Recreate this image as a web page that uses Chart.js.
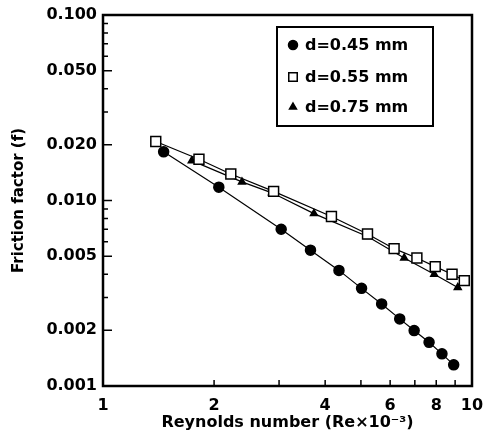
<!DOCTYPE html>
<html>
<head>
<meta charset="utf-8">
<script src="https://cdn.jsdelivr.net/npm/chart.js@4.4.0/dist/chart.umd.min.js"></script>
<style>
  html, body { margin: 0; padding: 0; background: #fff; }
  #chart { display: block; }
</style>
</head>
<body>
<canvas id="chart" width="484" height="441"></canvas>
<script>
// Reynolds number (x 10^-3) and friction factor
const reD045 = [1.46, 2.06, 3.04, 3.65, 4.36, 5.02, 5.69, 6.37, 6.97, 7.65, 8.29, 8.92];
const fD045 = [0.0183, 0.0118, 0.0070, 0.0054, 0.0042, 0.00336, 0.00277, 0.0023, 0.00199, 0.00172, 0.00149, 0.0013];

const reD055 = [1.39, 1.82, 2.22, 2.90, 4.16, 5.21, 6.15, 7.09, 7.95, 8.83, 9.53];
const fD055 = [0.0208, 0.0167, 0.0139, 0.0112, 0.0082, 0.0066, 0.0055, 0.0049, 0.0044, 0.0040, 0.0037];

const reD075 = [1.74, 2.38, 2.87, 3.73, 5.21, 6.55, 7.90, 9.15];
const fD075 = [0.0164, 0.0126, 0.0110, 0.0085, 0.0064, 0.0049, 0.0040, 0.0034];

const seriesLabels = ['d=0.45 mm', 'd=0.55 mm', 'd=0.75 mm'];

// tick positions and the ones that carry a label
const xTicks = [1, 2, 3, 4, 5, 6, 7, 8, 9, 10];
const xTickLabels = ['1', '2', '4', '6', '8', '10'];
const yTicks = [0.001, 0.002, 0.003, 0.004, 0.005, 0.006, 0.007, 0.008, 0.009,
                0.01, 0.02, 0.03, 0.04, 0.05, 0.06, 0.07, 0.08, 0.09, 0.1];
const yTickLabels = ['0.001', '0.002', '0.005', '0.010', '0.020', '0.050', '0.100'];

const toPoints = (xs, ys) => xs.map((x, i) => ({ x: x, y: ys[i] }));
const FONT = '"DejaVu Sans", "Liberation Sans", sans-serif';

function yLabel(v) {
    const s = v.toFixed(3);
    return yTickLabels.includes(s) ? s : '';
}
function xLabel(v) {
    const s = String(v);
    return xTickLabels.includes(s) ? s : '';
}

// frame plus inward ticks, drawn from the scales
const framePlugin = {
    id: 'frame',
    afterDatasetsDraw(chart) {
        const { ctx, chartArea: a, scales } = chart;
        ctx.save();
        ctx.strokeStyle = '#000';
        ctx.lineWidth = 2.5;
        ctx.strokeRect(a.left, a.top, a.right - a.left, a.bottom - a.top);
        ctx.lineWidth = 1.5;
        ctx.beginPath();
        scales.y.ticks.forEach(t => {
            const py = scales.y.getPixelForValue(t.value);
            const len = yLabel(t.value) ? 9 : 5;
            ctx.moveTo(a.left, py);
            ctx.lineTo(a.left + len, py);
        });
        scales.x.ticks.forEach(t => {
            if (t.value === 1 || t.value === 10) return;
            const px = scales.x.getPixelForValue(t.value);
            ctx.moveTo(px, a.bottom);
            ctx.lineTo(px, a.bottom - 6);
        });
        ctx.stroke();
        ctx.restore();
    }
};

// boxed legend inside the plot
const legendPlugin = {
    id: 'boxLegend',
    afterDraw(chart) {
        const { ctx } = chart;
        const box = { x: 277, y: 27, w: 156, h: 99 };
        const rows = [45, 77, 107];
        ctx.save();
        ctx.fillStyle = '#fff';
        ctx.fillRect(box.x, box.y, box.w, box.h);
        ctx.strokeStyle = '#000';
        ctx.lineWidth = 2;
        ctx.strokeRect(box.x, box.y, box.w, box.h);
        chart.data.datasets.forEach((ds, i) => {
            ctx.fillStyle = ds.pointBackgroundColor;
            ctx.strokeStyle = '#000';
            ctx.lineWidth = 1.5;
            Chart.helpers.drawPoint(ctx, {
                pointStyle: ds.pointStyle,
                radius: ds.legendRadius,
                borderWidth: 1.5
            }, 293, rows[i]);
            ctx.fillStyle = '#000';
            ctx.font = 'bold 16px ' + FONT;
            ctx.textBaseline = 'middle';
            ctx.fillText(ds.label, 305, rows[i] + 1);
        });
        ctx.restore();
    }
};

const common = {
    borderColor: '#000',
    borderWidth: 1.2,
    pointBorderColor: '#000',
    pointBorderWidth: 1.5,
    showLine: true,
    tension: 0,
    fill: false
};

new Chart(document.getElementById('chart'), {
    type: 'scatter',
    data: {
        datasets: [
            Object.assign({}, common, {
                label: seriesLabels[0],
                data: toPoints(reD045, fD045),
                pointStyle: 'circle',
                pointRadius: 5,
                legendRadius: 4.5,
                pointBackgroundColor: '#000'
            }),
            Object.assign({}, common, {
                label: seriesLabels[1],
                data: toPoints(reD055, fD055),
                pointStyle: 'rect',
                pointRadius: 7,
                legendRadius: 6,
                pointBackgroundColor: '#fff'
            }),
            Object.assign({}, common, {
                label: seriesLabels[2],
                data: toPoints(reD075, fD075),
                pointStyle: 'triangle',
                pointRadius: 4,
                legendRadius: 4,
                pointBackgroundColor: '#000'
            })
        ]
    },
    options: {
        responsive: false,
        animation: false,
        layout: { padding: { top: 15, right: 12, left: 0, bottom: 0 } },
        plugins: {
            legend: { display: false },
            tooltip: { enabled: false }
        },
        scales: {
            x: {
                type: 'logarithmic',
                min: 1,
                max: 10,
                afterBuildTicks: (scale) => { scale.ticks = xTicks.map(v => ({ value: v })); },
                afterFit: (scale) => {
                    scale.height = 55;
                    scale.paddingLeft = 0;
                    scale.paddingRight = 0;
                },
                grid: { display: false, drawTicks: false },
                border: { display: false },
                ticks: {
                    autoSkip: false,
                    maxRotation: 0,
                    padding: 10,
                    color: '#000',
                    font: { family: FONT, size: 16, weight: 'bold' },
                    callback: (v) => xLabel(v)
                },
                title: {
                    display: true,
                    text: 'Reynolds number (Re×10⁻³)',
                    color: '#000',
                    padding: { top: 0, bottom: 9 },
                    font: { family: FONT, size: 16, weight: 'bold' }
                }
            },
            y: {
                type: 'logarithmic',
                min: 0.001,
                max: 0.1,
                afterBuildTicks: (scale) => { scale.ticks = yTicks.map(v => ({ value: v })); },
                afterFit: (scale) => {
                    scale.width = 103;
                    scale.paddingTop = 0;
                    scale.paddingBottom = 0;
                },
                grid: { display: false, drawTicks: false },
                border: { display: false },
                ticks: {
                    autoSkip: false,
                    padding: 6,
                    color: '#000',
                    font: { family: FONT, size: 16, weight: 'bold' },
                    callback: (v) => yLabel(v)
                },
                title: {
                    display: true,
                    text: 'Friction factor (f)',
                    color: '#000',
                    padding: { top: 10, bottom: 0 },
                    font: { family: FONT, size: 15, weight: 'bold' }
                }
            }
        }
    },
    plugins: [framePlugin, legendPlugin]
});
</script>
</body>
</html>
